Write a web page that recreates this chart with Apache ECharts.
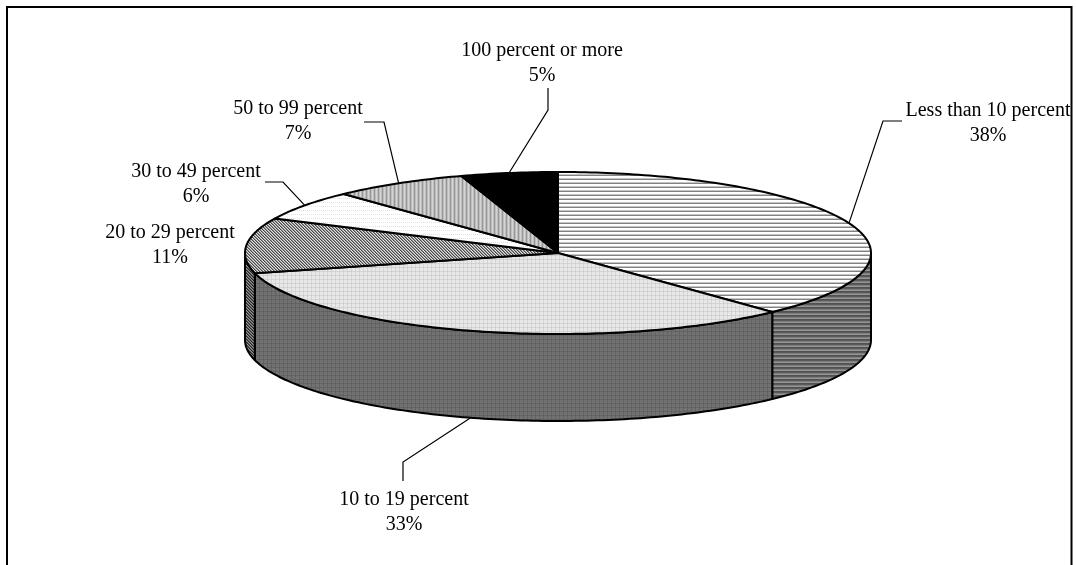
<!DOCTYPE html>
<html>
<head>
<meta charset="utf-8">
<style>html,body{margin:0;padding:0;background:#fff}#chart{width:1076px;height:565px}</style>
<script src="https://cdn.jsdelivr.net/npm/echarts@6/dist/echarts.min.js"></script>
</head>
<body>
<div id="chart"></div>
<script>
// Share of cases in each band, clockwise from twelve o'clock.
const categories = ['Less than 10 percent', '10 to 19 percent', '20 to 29 percent', '30 to 49 percent', '50 to 99 percent', '100 percent or more'];
const shares = [38, 33, 11, 6, 7, 5];

// Pie thickness in units of the vertical axis (the top ellipse spans -1..1).
const THICKNESS = 1.074;
const FONT = '"Liberation Serif", "Times New Roman", serif';

// Fill tiles, one row of grey levels per pixel row.
const tiles = {
  hLight:  [[255],[255],[195],[130]],
  hDark:   [[90],[125],[150],[80]],
  dotLight:[[232,232,232,212],[232,232,232,212],[232,232,232,212],[212,212,212,205]],
  dotDark: [[114,114,114,100],[114,114,114,100],[114,114,114,100],[100,100,100,94]],
  diag:    [[70,150,225],[225,70,150],[150,225,70]],
  diagDark:[[40,90,150],[150,40,90],[90,150,40]],
  sparse:  [[255,255,255,255],[255,255,255,255],[255,225,255,225],[255,255,255,255]],
  vLines:  [[212,190,150,190]],
  solid:   [[0]]
};

function makePattern(rows) {
  const c = document.createElement('canvas');
  c.height = rows.length;
  c.width = rows[0].length;
  const g = c.getContext('2d');
  rows.forEach((row, y) => row.forEach((v, x) => {
    g.fillStyle = `rgb(${v},${v},${v})`;
    g.fillRect(x, y, 1, 1);
  }));
  return { image: c, repeat: 'repeat' };
}

const topFills = ['hLight', 'dotLight', 'diag', 'sparse', 'vLines', 'solid'].map(k => makePattern(tiles[k]));
const wallFills = ['hDark', 'dotDark', 'diagDark', 'sparse', 'vLines', 'solid'].map(k => makePattern(tiles[k]));

// Start and end of every slice as fractions of the full turn.
const total = shares.reduce((a, b) => a + b, 0);
const spans = [];
shares.reduce((acc, v) => {
  spans.push([acc / total, (acc + v) / total]);
  return acc + v;
}, 0);

const rim = (api, turn, drop) => {
  const a = turn * 2 * Math.PI;
  return api.coord([Math.sin(a), Math.cos(a) - (drop || 0)]);
};

function arcPoints(api, from, to, drop) {
  const n = Math.max(2, Math.ceil((to - from) * 360));
  const pts = [];
  for (let i = 0; i <= n; i++) pts.push(rim(api, from + (to - from) * i / n, drop));
  return pts;
}

const outline = { stroke: '#000', lineWidth: 2, lineJoin: 'round' };

// Only the front half of the cylinder (quarter turn to three quarters) is visible.
function renderWall(params, api) {
  const i = params.dataIndex;
  const from = Math.max(spans[i][0], 0.25);
  const to = Math.min(spans[i][1], 0.75);
  if (to <= from) return null;
  const points = arcPoints(api, from, to, 0).concat(arcPoints(api, from, to, THICKNESS).reverse());
  return { type: 'polygon', shape: { points }, style: Object.assign({ fill: wallFills[i] }, outline) };
}

function renderTop(params, api) {
  const i = params.dataIndex;
  const points = [api.coord([0, 0])].concat(arcPoints(api, spans[i][0], spans[i][1], 0));
  return { type: 'polygon', shape: { points }, style: Object.assign({ fill: topFills[i] }, outline) };
}

// Label placement: text centre, then the leader's elbow and end, in page pixels.
const labelPlaces = [
  { text: [988, 123], via: [[883, 121], [902, 121]], drop: 0 },
  { text: [404, 512], via: [[403, 462], [403, 481]], drop: THICKNESS },
  { text: [170, 245], via: null, drop: 0 },
  { text: [196, 184], via: [[283, 182], [265, 182]], drop: 0 },
  { text: [298, 121], via: [[384, 122], [364, 122]], drop: 0 },
  { text: [542, 63],  via: [[548, 110], [548, 88]], drop: 0 }
];

function renderLabel(params, api) {
  const i = params.dataIndex;
  const place = labelPlaces[i];
  const children = [];
  if (place.via) {
    const mid = (spans[i][0] + spans[i][1]) / 2;
    children.push({
      type: 'polyline',
      shape: { points: [rim(api, mid, place.drop)].concat(place.via) },
      style: { stroke: '#000', lineWidth: 1.2, fill: null }
    });
  }
  children.push({
    type: 'text',
    style: {
      x: place.text[0], y: place.text[1],
      text: categories[i] + '\n' + shares[i] + '%',
      font: '20px ' + FONT, lineHeight: 25.5, fill: '#000',
      align: 'center', verticalAlign: 'middle'
    }
  });
  return { type: 'group', children };
}

const indices = shares.map((v, i) => [i, v]);

const chart = echarts.init(document.getElementById('chart'), null, { renderer: 'canvas' });
chart.setOption({
  animation: false,
  backgroundColor: '#fff',
  grid: { left: 245, top: 172, width: 626, height: 162 },
  xAxis: { type: 'value', min: -1, max: 1, show: false },
  yAxis: { type: 'value', min: -1, max: 1, show: false },
  series: [
    { type: 'custom', coordinateSystem: 'cartesian2d', clip: false, silent: true, z: 2, data: indices, renderItem: renderWall },
    { type: 'custom', coordinateSystem: 'cartesian2d', clip: false, silent: true, z: 3, data: indices, renderItem: renderTop },
    { type: 'custom', coordinateSystem: 'cartesian2d', clip: false, silent: true, z: 4, data: indices, renderItem: renderLabel }
  ],
  graphic: [{
    type: 'rect', z: 100, silent: true,
    shape: { x: 7, y: 7, width: 1064.5, height: 600 },
    style: { fill: null, stroke: '#000', lineWidth: 2 }
  }]
});
</script>
</body>
</html>
